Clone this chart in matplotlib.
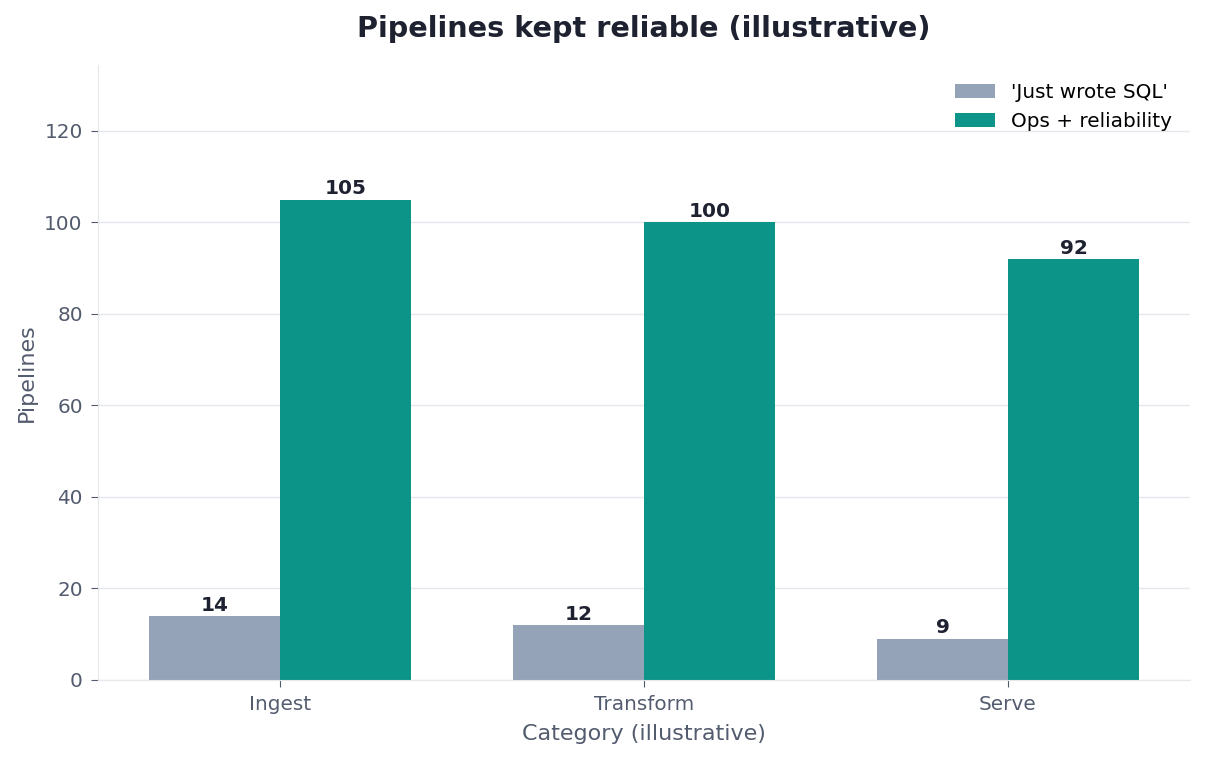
import matplotlib
matplotlib.use("Agg")
import matplotlib.pyplot as plt
import numpy as np

# data
categories = ["Ingest", "Transform", "Serve"]
series_names = ["'Just wrote SQL'", "Ops + reliability"]
just_sql = [14, 12, 9]
ops_reliability = [105, 100, 92]

colors = ["#94a3b8", "#0d9488"]
text_dark = "#1e2130"
text_muted = "#535b6e"
line_light = "#e5e7eb"

fig = plt.figure(figsize=(12.06, 7.6), dpi=100)
ax = fig.add_axes([0.0813, 0.1053, 0.9054, 0.8092])

x = np.arange(len(categories))
width = 0.36

bars_a = ax.bar(x - width / 2, just_sql, width, color=colors[0], label=series_names[0], zorder=2)
bars_b = ax.bar(x + width / 2, ops_reliability, width, color=colors[1], label=series_names[1], zorder=2)

# value labels on top of each bar
for bars in (bars_a, bars_b):
    for rect in bars:
        h = rect.get_height()
        ax.annotate(f"{h:.0f}", xy=(rect.get_x() + rect.get_width() / 2, h),
                    xytext=(0, 1), textcoords="offset points",
                    ha="center", va="bottom", fontsize=14.4, fontweight="bold",
                    color=text_dark)

ax.set_xlim(-0.5, 2.5)
ax.set_ylim(0, max(ops_reliability) * 1.28)
ax.set_xticks(x)
ax.set_xticklabels(categories)
ax.set_yticks(np.arange(0, 121, 20))

ax.set_title("Pipelines kept reliable (illustrative)", fontsize=20.7, fontweight="bold",
             color=text_dark, pad=20)
ax.set_xlabel("Category (illustrative)", fontsize=16, color=text_muted, labelpad=7)
ax.set_ylabel("Pipelines", fontsize=16, color=text_muted, labelpad=5)

ax.tick_params(axis="both", labelsize=14.4, colors=text_muted, length=5, pad=6)
ax.grid(True, axis="y", color=line_light, linewidth=1, zorder=0)
ax.set_axisbelow(True)
for side in ("top", "right"):
    ax.spines[side].set_visible(False)
for side in ("left", "bottom"):
    ax.spines[side].set_color(line_light)

ax.legend(loc="upper right", frameon=False, fontsize=14.4, handlelength=2.0)

fig.savefig("out.png", dpi=100)
